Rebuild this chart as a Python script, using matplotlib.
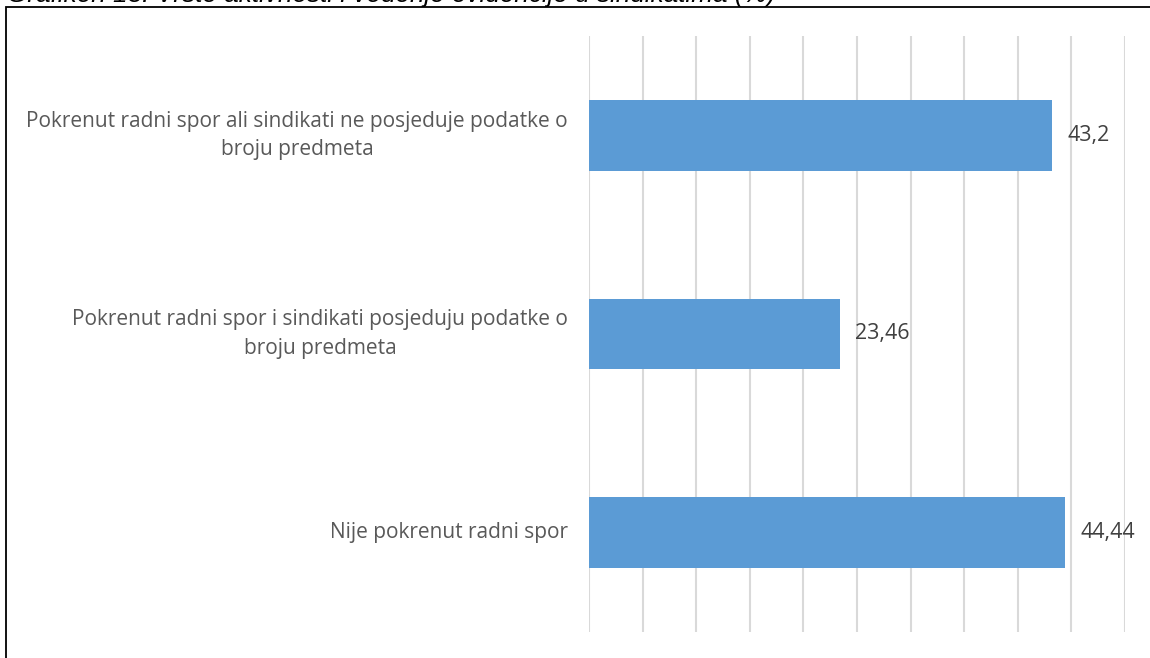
import matplotlib
matplotlib.use("Agg")
import matplotlib.pyplot as plt
from matplotlib.patches import Rectangle

categories = [
    "Pokrenut radni spor ali sindikati ne posjeduje podatke o\nbroju predmeta",
    "Pokrenut radni spor i sindikati posjeduju podatke o\nbroju predmeta",
    "Nije pokrenut radni spor",
]
values = [43.2, 23.46, 44.44]
value_labels = ["43,2", "23,46", "44,44"]
title = "Grafikon 13: Vrste aktivnosti i vođenje evidencije u sindikatima (%)"

W, H = 1150, 658
fig = plt.figure(figsize=(W / 100, H / 100), dpi=100)
fig.patch.set_facecolor("white")

# outer frame
fig.add_artist(Rectangle((6 / W, -0.05), 1.1, 1 - 7 / H + 0.05, transform=fig.transFigure,
                         fill=False, edgecolor="black", linewidth=1.3))
fig.text(7 / W, 1 - 2 / H, title, ha="left", va="baseline", fontsize=18.8, style="italic",
         family="Liberation Sans", color="black")

ax = fig.add_axes([589 / W, 1 - 632 / H, (1125 - 589) / W, (632 - 36) / H])
n = len(categories)
ypos = list(range(n))[::-1]
ax.barh(ypos, values, height=0.355, color="#5B9BD5", zorder=3)
ax.set_xlim(0, 50)
ax.set_ylim(-0.5, n - 0.5)
ax.set_xticks(range(0, 51, 5))
ax.xaxis.grid(True, color="#D9D9D9", linewidth=1.5, zorder=0)
ax.tick_params(axis="x", length=0, labelbottom=False)
ax.tick_params(axis="y", length=0, labelleft=False)
for s in ax.spines.values():
    s.set_visible(False)

for y, v, lab, cat in zip(ypos, values, value_labels, categories):
    ax.text(v + 1.4, y, lab, ha="left", va="center", fontsize=15.5, color="#404040",
            family="Open Sans")
    ax.annotate(cat, xy=(0, y), xycoords="data", xytext=(-21, 0), textcoords="offset pixels",
                ha="right", va="center", multialignment="center", fontsize=15,
                color="#595959", family="Open Sans", linespacing=1.45)

fig.savefig("out.png", dpi=100, facecolor="white")
